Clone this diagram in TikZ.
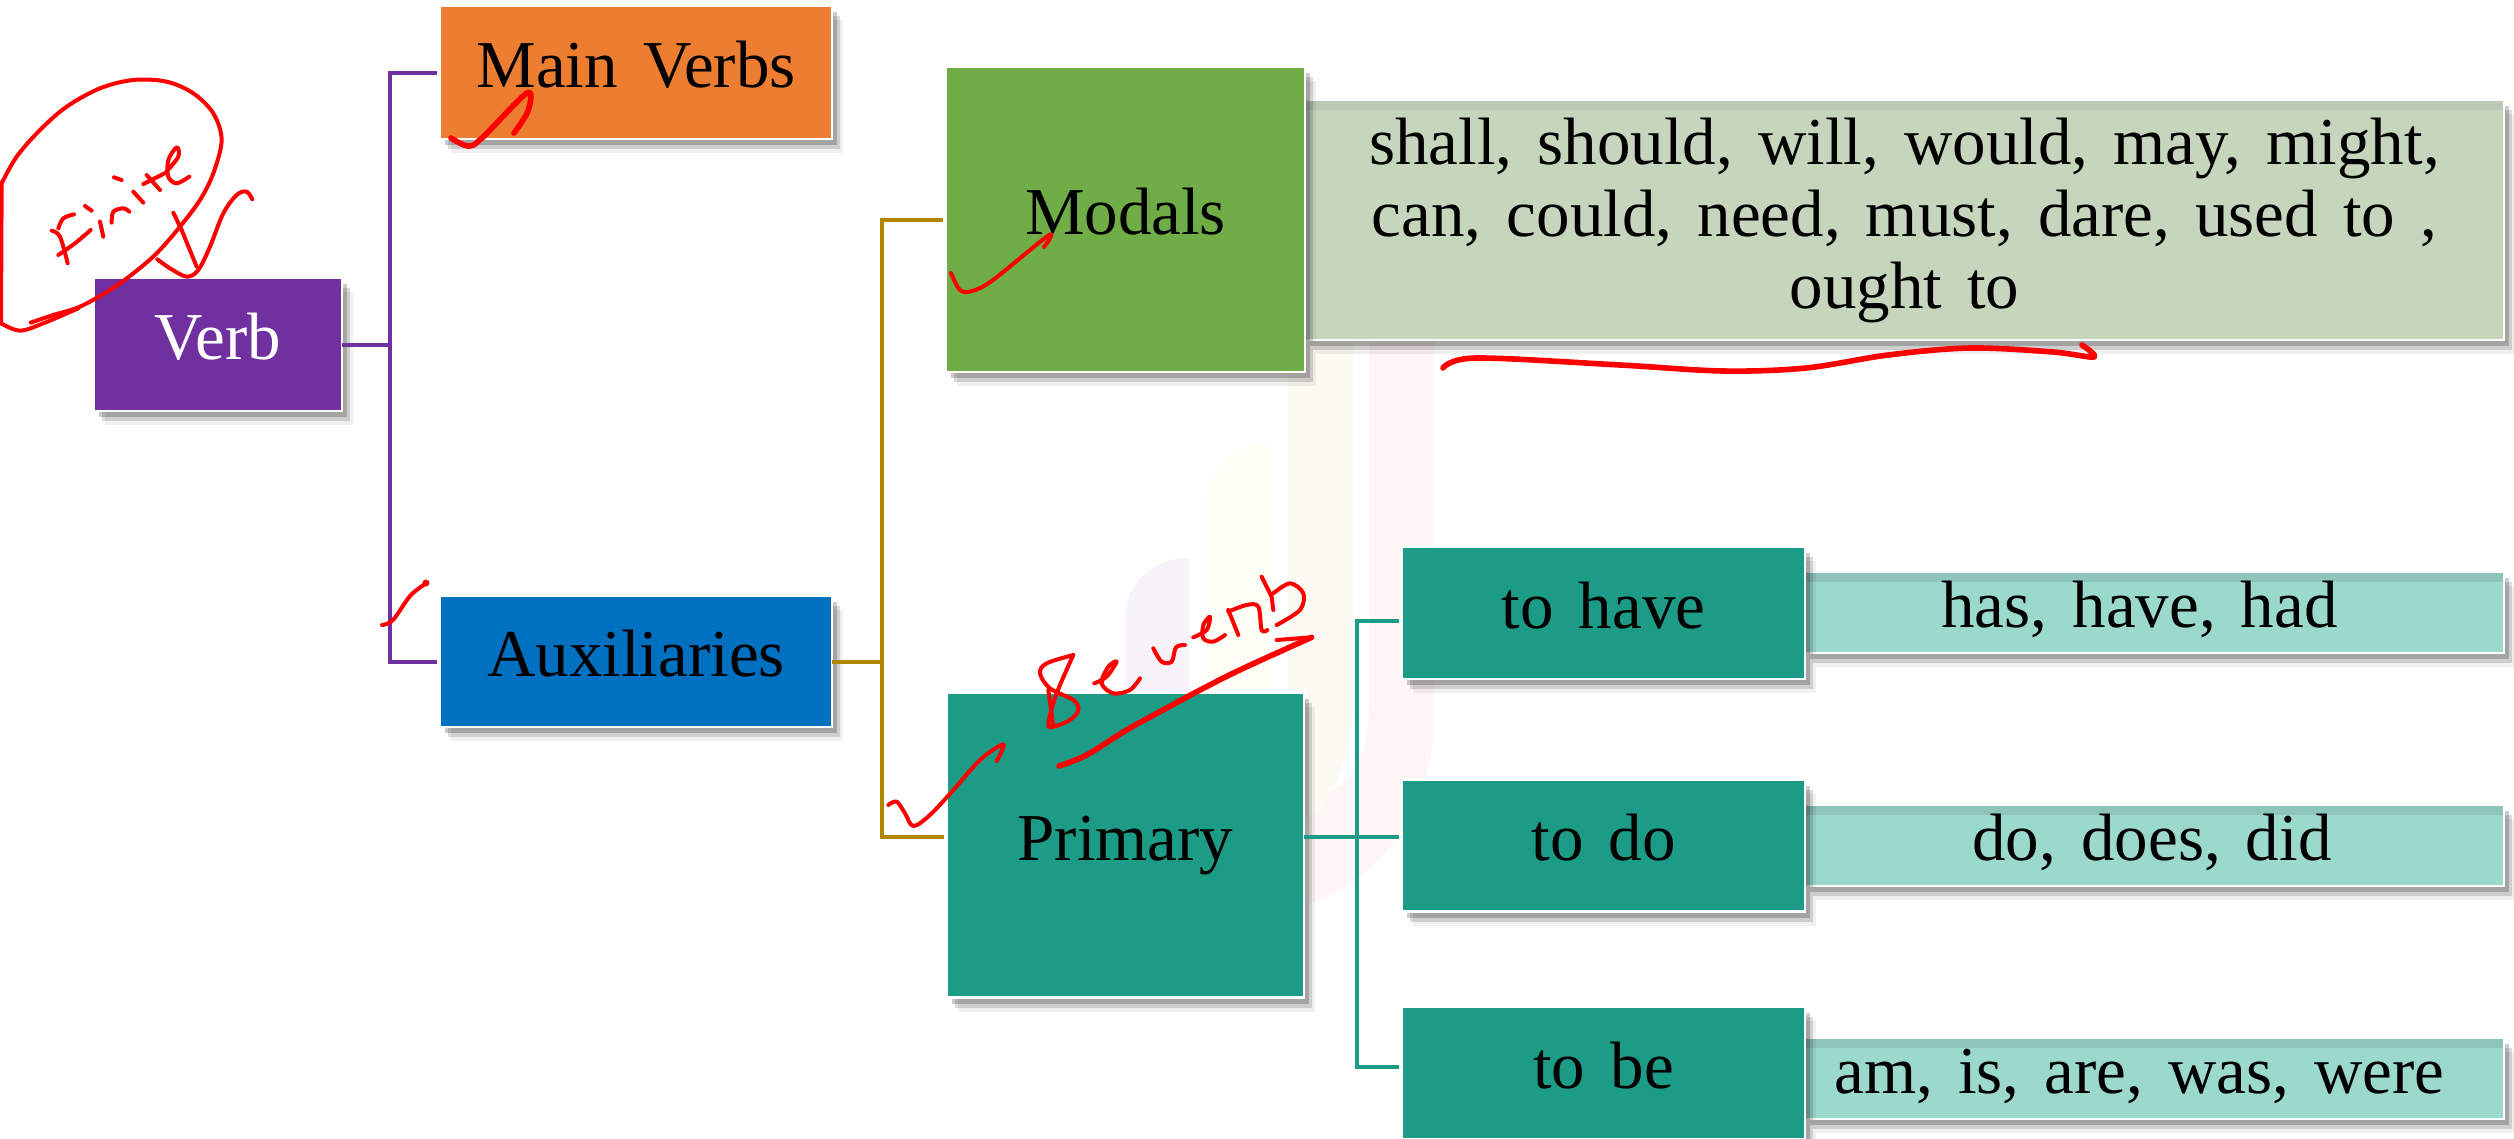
\documentclass[tikz,border=0pt]{standalone}
\usepackage{fontspec}
\setmainfont[WordSpace=1.5]{Liberation Serif}
\usetikzlibrary{shadows}
\definecolor{cpurple}{HTML}{7030A0}
\definecolor{corange}{HTML}{ED7D31}
\definecolor{cblue}{HTML}{0070C0}
\definecolor{cgreen}{HTML}{70AD47}
\definecolor{cteal}{HTML}{1C9C86}
\definecolor{clteal}{HTML}{9BD9CC}
\definecolor{cgrey}{HTML}{C6D6BD}
\definecolor{cgold}{HTML}{B38600}
\definecolor{cink}{HTML}{FF0000}
\tikzset{
  softshadow/.style={
    general shadow={fill=black,opacity=.06,shadow xshift=11pt,shadow yshift=-14pt},
    general shadow={fill=black,opacity=.14,shadow xshift=8pt,shadow yshift=-10pt},
    general shadow={fill=black,opacity=.2,shadow xshift=5pt,shadow yshift=-6pt}},
  tbox/.style={draw=white,line width=2.5pt,inner sep=0pt,outer sep=0pt,softshadow,
    font=\fontsize{67}{72}\selectfont,text=black,text height=40pt,text depth=10pt},
  topband/.style={path picture={
    \fill[#1] (path picture bounding box.north west) rectangle ([yshift=-10pt]path picture bounding box.north east);}},
  lbox/.style={tbox,fill=clteal,minimum width=699pt,minimum height=81pt,topband=black!9!clteal},
  gapfill/.style={line width=0pt},
  link/.style={line width=4pt,line cap=butt,line join=miter},
  ink/.style={draw=cink,line width=4pt,line cap=round,line join=round},
  inkthick/.style={ink,line width=5.6pt},
  hand/.style={smooth,tension=.55},
  wm/.style={draw=none}
}
\begin{document}
\begin{tikzpicture}[x=1pt,y=-1pt]
\useasboundingbox (0,0) rectangle (2514,1138);
\fill[white] (0,0) rectangle (2514,1138);
% faint watermark
\fill[wm,fill=white!96!red!100!white] (1369,290) .. controls (1369,262) and (1395,245) .. (1434,245) -- (1434,720) .. controls (1434,800) and (1385,880) .. (1309,903) -- (1309,800) .. controls (1350,790) and (1369,760) .. (1369,700) -- cycle;
\fill[wm,fill=yellow!3!white!98!black] (1288,360) .. controls (1288,345) and (1320,330) .. (1353,330) -- (1353,700) .. controls (1353,750) and (1335,800) .. (1309,817) -- (1288,817) -- cycle;
\fill[wm,fill=yellow!3!white] (1206,505) .. controls (1206,470) and (1235,443) .. (1270,443) -- (1270,700) -- (1206,700) -- cycle;
\fill[wm,fill=blue!3!white!98!red] (1125,620) .. controls (1125,585) and (1150,558) .. (1189,558) -- (1189,700) -- (1125,700) -- cycle;
% detail boxes
\node[tbox,fill=cgrey,minimum width=1199pt,minimum height=240pt,text height=,text depth=,align=center,
  path picture={
    \fill[black!6!cgrey] (path picture bounding box.north west) rectangle ([yshift=-10pt]path picture bounding box.north east);
    \fill[black!4!cgrey!95!yellow] (1369,290) .. controls (1369,262) and (1395,245) .. (1434,245) -- (1434,340) -- (1369,340) -- cycle;
  }] (modalsList) at (1904.5,220) {shall, should, will, would, may, might,\\can, could, need, must, dare, used to ,\\ought to};
\node[lbox] (haveList) at (2154.5,612.5) {has, have, had\kern30pt\null};
\node[lbox] (doList) at (2154.5,845.5) {do, does, did\kern5pt\null};
\node[lbox] (beList) at (2154.5,1078.5) {am, is, are, was, were\kern30pt\null};
% the detail boxes run on under the boxes to their left
\fill[gapfill,cgrey] ([xshift=-10pt]modalsList.north west) rectangle ([xshift=2pt]modalsList.south west);
\fill[gapfill,black!6!cgrey] ([xshift=-10pt]modalsList.north west) rectangle ([xshift=2pt,yshift=-10pt]modalsList.north west);
\foreach \n in {haveList,doList,beList}{
  \fill[gapfill,clteal] ([xshift=-10pt]\n.north west) rectangle ([xshift=2pt]\n.south west);
  \fill[gapfill,black!9!clteal] ([xshift=-10pt]\n.north west) rectangle ([xshift=2pt,yshift=-10pt]\n.north west);
}
% main boxes
\node[tbox,fill=cpurple,text=white,minimum width=248pt,minimum height=133pt] (verb) at (218,344.5) {Verb};
\node[tbox,fill=corange,minimum width=392pt,minimum height=133pt] (main) at (636,72.5) {Main Verbs};
\node[tbox,fill=cblue,minimum width=392pt,minimum height=131pt] (aux) at (636,661.5) {Auxiliaries};
\node[tbox,fill=cgreen,minimum width=359pt,minimum height=305pt] (modals) at (1125.5,219.5) {Modals};
\node[tbox,fill=cteal,minimum width=357pt,minimum height=305pt] (primary) at (1125.5,845) {Primary};
\node[tbox,fill=cteal,minimum width=403pt,minimum height=132pt] (have) at (1603.5,613) {to have};
\node[tbox,fill=cteal,minimum width=403pt,minimum height=132pt] (do) at (1603.5,845.5) {to do};
\node[tbox,fill=cteal,minimum width=403pt,minimum height=132pt] (be) at (1603.5,1073) {to be};
% connector junctions
\coordinate (jv) at (390,344.5);
\coordinate (jg) at (882,661.5);
\coordinate (jt) at (1357,837);
\coordinate (pw) at ([yshift=8pt]primary.west);
\coordinate (pe) at ([yshift=8pt]primary.east);
\coordinate (hw) at ([yshift=-8pt]have.west);
\coordinate (dw) at ([yshift=8.5pt]do.west);
\coordinate (bw) at ([yshift=6pt]be.west);
% connectors
\draw[link,cpurple] (verb.east) -- (jv);
\draw[link,cpurple] (jv) |- ([xshift=-3pt]main.west);
\draw[link,cpurple] (jv) |- ([xshift=-3pt]aux.west);
\draw[link,cgold] (aux.east) -- (jg);
\draw[link,cgold] (jg) |- ([xshift=-3pt]modals.west);
\draw[link,cgold] (jg) |- ([xshift=-3pt]pw);
\draw[link,cteal] (pe) -- (jt);
\draw[link,cteal] (jt) |- ([xshift=-3pt]hw);
\draw[link,cteal] (jt) -- ([xshift=-3pt]dw);
\draw[link,cteal] (jt) |- ([xshift=-3pt]bw);
% handwriting: Finite, loop and tick (zoom coordinates / 3)
\begin{scope}[shift={(0,80)},x=.3333pt,y=-.3333pt]
\draw[ink] plot[hand] coordinates {(92,728)(160,705)(240,680)(330,630)(400,580)(470,520)(540,440)(600,360)(640,280)(665,180)(640,100)(580,40)(500,5)(400,0)(300,25)(200,80)(120,150)(50,230)(5,310)};
\draw[ink] (5,310) -- (3,730);
\draw[ink] plot[hand] coordinates {(3,730)(60,752)(130,730)(235,685)};
\draw[ink] plot[hand] coordinates {(155,452)(180,470)(203,550)};
\draw[ink] plot[hand] coordinates {(222,403)(190,415)(175,445)};
\draw[ink] plot[hand] coordinates {(175,525)(225,490)(272,450)};
\draw[ink] (255,378) -- (275,392);
\draw[ink] (300,425) -- (310,470);
\draw[ink] plot[hand] coordinates {(335,428)(340,395)(370,385)(388,395)};
\draw[ink] (342,292) -- (365,300);
\draw[ink] (400,335) -- (430,368);
\draw[ink] (440,285) -- (480,330);
\draw[ink] (430,312) -- (490,282);
\draw[ink] plot[hand] coordinates {(495,280)(535,230)(530,202)(505,240)(505,290)(530,310)(568,290)};
\draw[ink] plot[hand] coordinates {(472,538)(510,565)(560,590)(595,570)(630,500)(670,400)(710,345)(740,335)(757,358)};
\draw[ink] (520,398) -- (545,450) -- (590,560);
\end{scope}
% ticks
\draw[inkthick] plot[hand] coordinates {(451,138)(468,146)(482,138)(527,93)(528,111)(514,133)};
\draw[ink] plot[hand] coordinates {(382,625)(393,620)(410,596)(425,584)};
\fill[cink] (426,583) circle (3.5);
\draw[ink] plot[hand] coordinates {(951,273)(960,290)(972,291)(993,280)(1049,235)(1044,247)};
\draw[inkthick] plot[hand] coordinates {(1443,368)(1476,358)(1620,365)(1723,371)(1806,368)(1888,355)(1970,348)(2053,352)(2094,357)(2082,345)};
% handwriting: Be verb and tick
\begin{scope}[shift={(860,560)},x=.3333pt,y=-.3333pt]
\draw[ink] plot[hand] coordinates {(85,735)(110,725)(135,760)(160,798)(210,765)(280,690)(360,600)(430,553)(410,603)};
\draw[inkthick] plot[hand] coordinates {(597,618)(680,585)(800,510)(900,455)(1030,385)(1150,325)(1355,232)};
\draw[ink] (1355,232) -- (1250,240);
\draw[ink] plot[hand] coordinates {(640,285)(560,310)(540,340)(570,385)(640,420)(655,450)(630,480)(580,500)(565,490)(590,400)(640,285)};
\draw[ink] (565,390) -- (580,500);
\draw[ink] plot[hand] coordinates {(703,370)(740,350)(770,305)(745,320)(725,370)(760,400)(810,390)(840,355)};
\draw[ink] plot[hand] coordinates {(880,265)(905,305)(935,305)(948,262)(975,255)};
\draw[ink] plot[hand] coordinates {(1000,232)(1040,210)(1050,170)(1030,195)(1030,235)(1060,245)(1095,225)};
\draw[ink] (1105,150) -- (1135,225);
\draw[ink] plot[hand] coordinates {(1105,155)(1160,135)(1195,140)(1205,210)(1222,210)};
\draw[ink] (1205,50) -- (1235,110) -- (1240,150);
\draw[ink] plot[hand] coordinates {(1240,100)(1290,70)(1330,100)(1320,150)(1250,195)};
\end{scope}
\end{tikzpicture}
\end{document}
